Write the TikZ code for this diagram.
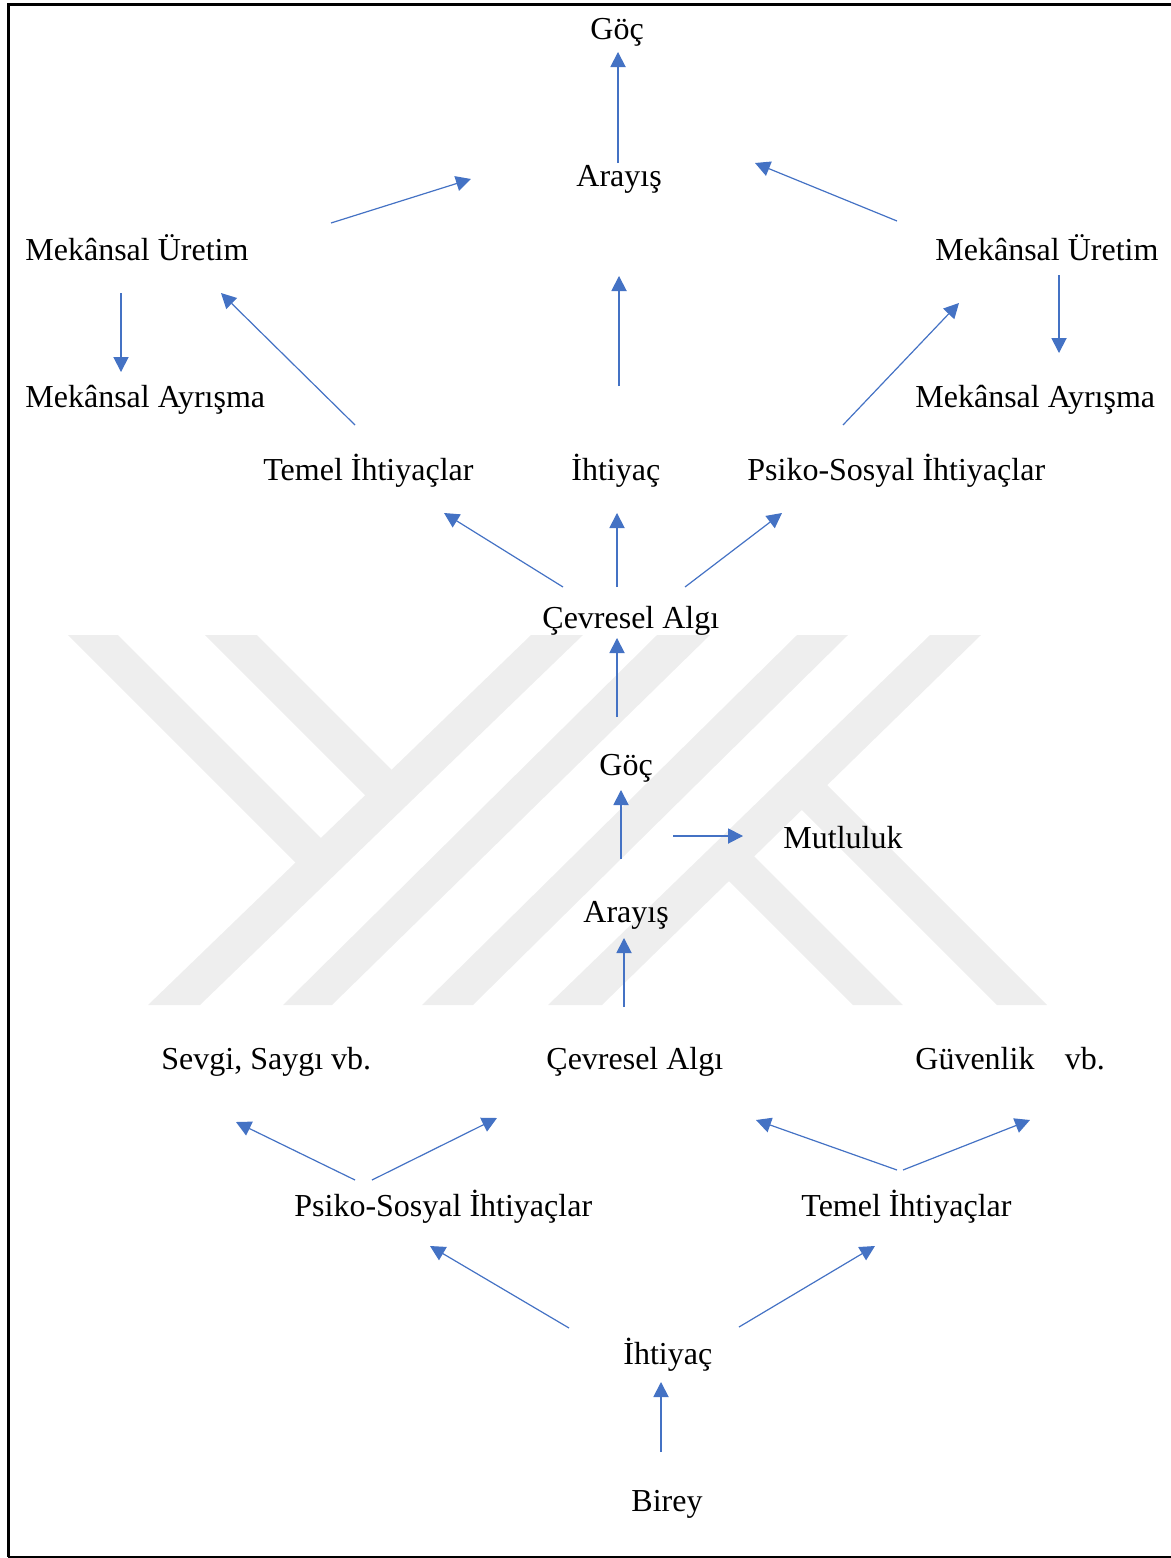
\documentclass[tikz,border=0pt]{standalone}
\usepackage{fontspec}
\setmainfont{Liberation Serif}
\usetikzlibrary{arrows.meta}
\definecolor{wordblue}{HTML}{4472C4}
\definecolor{wmgray}{HTML}{EEEEEE}
\tikzset{
  lbl/.style={anchor=base west, inner sep=0pt, font=\fontsize{16}{19}\selectfont},
  conn/.style={draw=wordblue, line width=0.6pt, -{Triangle[length=7.5pt,width=7.6pt]}},
  wm/.style={fill=wmgray, draw=none},
  frameline/.style={black, line width=1.35pt},
}
\begin{document}
\begin{tikzpicture}[x=0.5pt,y=-0.5pt]
\useasboundingbox (0,0) rectangle (1171,1558);
\begin{scope}
\clip (0,0) rectangle (1171,1558);
% watermark
\fill[wm] (531,635)--(583,635)--(200,1005)--(148,1005)--cycle;
\fill[wm] (657,635)--(710,635)--(332,1005)--(283,1005)--cycle;
\fill[wm] (797,635)--(848,635)--(473,1005)--(422,1005)--cycle;
\fill[wm] (930,635)--(981,635)--(602,1005)--(548,1005)--cycle;
\fill[wm] (68,635)--(118,635)--(333.6,850.6)--(308.2,875.2)--cycle;
\fill[wm] (205,635)--(257,635)--(404.3,782.3)--(377.9,807.9)--cycle;
\fill[wm] (853,1005)--(903,1005)--(741.3,843.3)--(715.9,867.9)--cycle;
\fill[wm] (997,1005)--(1047,1005)--(814.3,772.3)--(788.9,796.9)--cycle;
% frame
\draw[frameline] (1180,4.7) -- (8.3,4.7) -- (8.3,1556.7);
\draw[black, line width=1pt] (8.3,1556.7) -- (1180,1556.7);
\end{scope}
% labels
\node[lbl] (goc1) at (590,39.3) {Göç};
\node[lbl] (arayis1) at (576,186.5) {Arayış};
\node[lbl] (muL) at (25,260.1) {Mekânsal Üretim};
\node[lbl] (muR) at (935,260.1) {Mekânsal Üretim};
\node[lbl] (maL) at (25,407.3) {Mekânsal Ayrışma};
\node[lbl] (maR) at (915,407.3) {Mekânsal Ayrışma};
\node[lbl] (temel1) at (263,480.9) {Temel İhtiyaçlar};
\node[lbl] (ihtiyac1) at (571,480.9) {İhtiyaç};
\node[lbl] (psiko1) at (747,480.9) {Psiko-Sosyal İhtiyaçlar};
\node[lbl] (cevre1) at (542,628.1) {Çevresel Algı};
\node[lbl] (goc2) at (599,775.3) {Göç};
\node[lbl] (mutluluk) at (783,848.9) {Mutluluk};
\node[lbl] (arayis2) at (583,922.5) {Arayış};
\node[lbl] (sevgi) at (161,1069.7) {Sevgi, Saygı vb.};
\node[lbl] (cevre2) at (546,1069.7) {Çevresel Algı};
\node[lbl] (guvenlik) at (915,1069.7) {Güvenlik\hspace{0.95em}vb.};
\node[lbl] (psiko2) at (294,1216.9) {Psiko-Sosyal İhtiyaçlar};
\node[lbl] (temel2) at (801,1216.9) {Temel İhtiyaçlar};
\node[lbl] (ihtiyac2) at (623,1364.1) {İhtiyaç};
\node[lbl] (birey) at (631,1511.3) {Birey};
% connector end points
\coordinate (c1s) at (618,163);   \coordinate (c1t) at (618,52);
\coordinate (c2s) at (331,223);   \coordinate (c2t) at (471,179);
\coordinate (c3s) at (897,221);   \coordinate (c3t) at (755,163);
\coordinate (c4s) at (619,386);   \coordinate (c4t) at (619,276);
\coordinate (c5s) at (121,293);   \coordinate (c5t) at (121,372);
\coordinate (c6s) at (1059,275);  \coordinate (c6t) at (1059,353);
\coordinate (c7s) at (355,425);   \coordinate (c7t) at (221,293);
\coordinate (c8s) at (843,425);   \coordinate (c8t) at (959,303);
\coordinate (c9s) at (563,587);   \coordinate (c9t) at (444,513);
\coordinate (c10s) at (617,587);  \coordinate (c10t) at (617,513);
\coordinate (c11s) at (685,587);  \coordinate (c11t) at (782,513);
\coordinate (c12s) at (617,717);  \coordinate (c12t) at (617,638);
\coordinate (c13s) at (621,859);  \coordinate (c13t) at (621,790);
\coordinate (c14s) at (673,836);  \coordinate (c14t) at (743,836);
\coordinate (c15s) at (624,1007); \coordinate (c15t) at (624,938);
\coordinate (c16s) at (355,1180); \coordinate (c16t) at (236,1122);
\coordinate (c17s) at (372,1180); \coordinate (c17t) at (497,1118);
\coordinate (c18s) at (897,1170); \coordinate (c18t) at (756,1120);
\coordinate (c19s) at (903,1170); \coordinate (c19t) at (1030,1120);
\coordinate (c20s) at (569,1328); \coordinate (c20t) at (430,1246);
\coordinate (c21s) at (739,1327); \coordinate (c21t) at (875,1246);
\coordinate (c22s) at (661,1452); \coordinate (c22t) at (661,1382);
\foreach \i in {1,...,22} {\draw[conn] (c\i s) -- (c\i t);}
\end{tikzpicture}
\end{document}
